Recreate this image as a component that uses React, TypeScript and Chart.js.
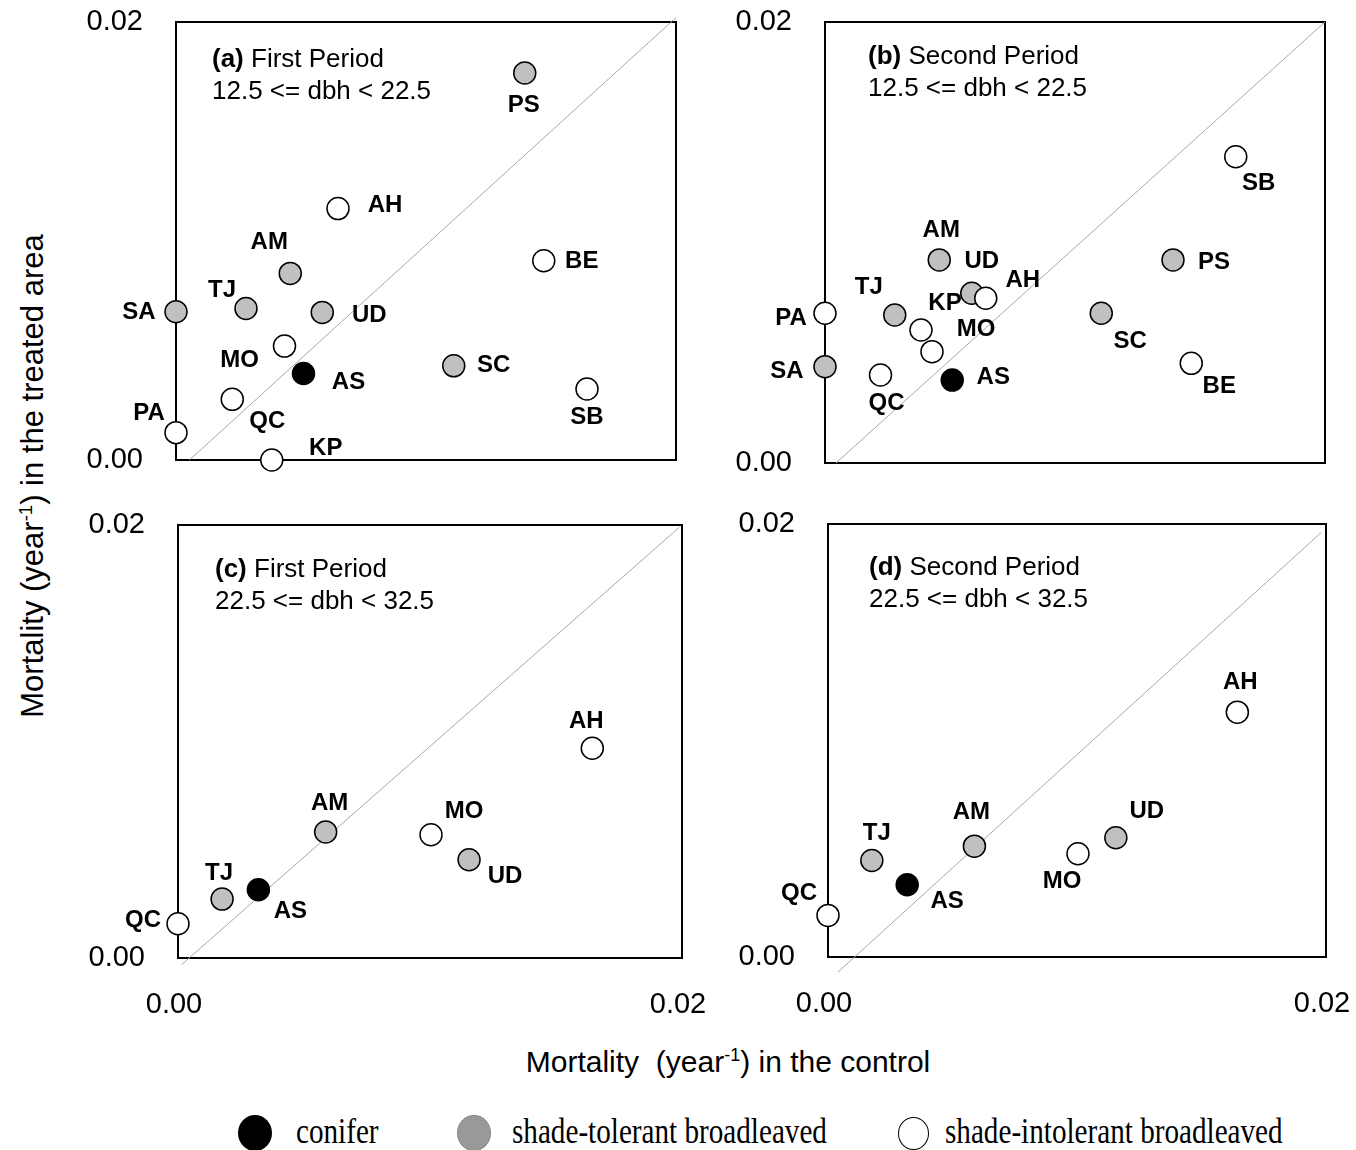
import React, { useEffect, useRef } from "react";
import { Chart, registerables } from "chart.js";

Chart.register(...registerables);

// ---------- Data ----------
const axisTickValues = [0, 0.02];

// Panel (a) First Period, 12.5 <= dbh < 22.5
const aSpecies = ["PS", "AH", "BE", "AM", "SA", "TJ", "UD", "MO", "AS", "SC", "SB", "QC", "PA", "KP"];
const aGroup = ["T", "I", "I", "T", "T", "T", "T", "I", "C", "T", "I", "I", "I", "I"];
const aControl = [0.01395, 0.00648, 0.01471, 0.00457, 0, 0.0028, 0.00585, 0.00434, 0.0051, 0.01111, 0.01644, 0.00225, 0, 0.00383];
const aTreated = [0.01767, 0.01148, 0.0091, 0.00852, 0.00677, 0.00692, 0.00674, 0.0052, 0.00395, 0.0043, 0.00324, 0.00277, 0.00125, 0];
const aDiagX = [0.00054, 0.02];
const aDiagY = [0, 0.0202];

// Panel (b) Second Period, 12.5 <= dbh < 22.5
const bSpecies = ["SB", "PS", "AM", "UD", "AH", "PA", "TJ", "KP", "MO", "SC", "SA", "QC", "AS", "BE"];
const bGroup = ["I", "T", "T", "T", "I", "I", "T", "I", "I", "T", "T", "I", "C", "I"];
const bControl = [0.01643, 0.01392, 0.00457, 0.00587, 0.00643, 0, 0.00279, 0.00384, 0.00428, 0.01105, 0, 0.00222, 0.00509, 0.01465];
const bTreated = [0.01389, 0.00921, 0.00921, 0.0077, 0.00747, 0.00679, 0.00671, 0.00603, 0.00505, 0.00679, 0.00437, 0.00399, 0.00376, 0.00452];
const bDiagX = [0.00044, 0.02];
const bDiagY = [0, 0.02];

// Panel (c) First Period, 22.5 <= dbh < 32.5
const cSpecies = ["AH", "AM", "MO", "UD", "AS", "TJ", "QC"];
const cGroup = ["I", "T", "I", "T", "C", "T", "I"];
const cControl = [0.01644, 0.00586, 0.01004, 0.01155, 0.00319, 0.00175, 0];
const cTreated = [0.00969, 0.00582, 0.00569, 0.00454, 0.00315, 0.00272, 0.00158];
const cDiagX = [0.00015, 0.0199];
const cDiagY = [-0.0003, 0.0199];

// Panel (d) Second Period, 22.5 <= dbh < 32.5
const dSpecies = ["AH", "UD", "MO", "AM", "TJ", "AS", "QC"];
const dGroup = ["I", "T", "I", "T", "T", "C", "I"];
const dControl = [0.01644, 0.01156, 0.01004, 0.00588, 0.00176, 0.00318, 0];
const dTreated = [0.01131, 0.00551, 0.00477, 0.00512, 0.00446, 0.00334, 0.00192];
const dDiagX = [0.0004, 0.0198];
const dDiagY = [-0.0007, 0.0196];

// ---------- Label placement (layout, px offsets from each point) ----------
const aLabelDx = [-1, 47, 38, -21, -37, -24, 47, -45, 45, 40, 0, 35, -27, 54];
const aLabelDy = [32, -3, 1, -31, 1, -18, 3, 14, 9, 0, 28, 22, -19, -12];
const bLabelDx = [23, 41, 2, 10, 37, -34, -26, 24, 44, 29, -38, 6, 41, 28];
const bLabelDy = [27, 2, -30, -32, -18, 5, -28, -27, -22, 28, 5, 28, -3, 23];
const cLabelDx = [-6, 4, 33, 36, 32, -3, -35];
const cLabelDy = [-27, -29, -23, 17, 22, -26, -3];
const dLabelDx = [3, 31, -16, -3, 5, 40, -29];
const dLabelDy = [-30, -26, 28, -34, -27, 17, -22];

// ---------- Styles ----------
const SANS = '"Liberation Sans", Arial, Helvetica, sans-serif';
const SERIF = '"Liberation Serif", "Times New Roman", Times, serif';
const groupFill: Record<string, string> = { C: "#000000", T: "#c0c0c0", I: "#ffffff" };

const PADL = 110;
const PADT = 20;
const PADR = 40;
const PADB = 70;

type Box = { left: number; top: number; width: number; height: number };
type PanelCfg = {
  box: Box;
  species: string[];
  group: string[];
  control: number[];
  treated: number[];
  diagX: number[];
  diagY: number[];
  labelDx: number[];
  labelDy: number[];
  tag: string;
  period: string;
  range: string;
  annot: { dx: number; y1: number; y2: number };
  showX: boolean;
};

const panels: PanelCfg[] = [
  {
    box: { left: 176, top: 22, width: 500, height: 438 },
    species: aSpecies, group: aGroup, control: aControl, treated: aTreated,
    diagX: aDiagX, diagY: aDiagY, labelDx: aLabelDx, labelDy: aLabelDy,
    tag: "(a)", period: " First Period", range: "12.5 <= dbh < 22.5",
    annot: { dx: 36, y1: 38, y2: 70 }, showX: false,
  },
  {
    box: { left: 825, top: 22, width: 500, height: 441 },
    species: bSpecies, group: bGroup, control: bControl, treated: bTreated,
    diagX: bDiagX, diagY: bDiagY, labelDx: bLabelDx, labelDy: bLabelDy,
    tag: "(b)", period: " Second Period", range: "12.5 <= dbh < 22.5",
    annot: { dx: 43, y1: 35, y2: 67 }, showX: false,
  },
  {
    box: { left: 178, top: 525, width: 504, height: 433 },
    species: cSpecies, group: cGroup, control: cControl, treated: cTreated,
    diagX: cDiagX, diagY: cDiagY, labelDx: cLabelDx, labelDy: cLabelDy,
    tag: "(c)", period: " First Period", range: "22.5 <= dbh < 32.5",
    annot: { dx: 37, y1: 45, y2: 77 }, showX: true,
  },
  {
    box: { left: 828, top: 524, width: 498, height: 433 },
    species: dSpecies, group: dGroup, control: dControl, treated: dTreated,
    diagX: dDiagX, diagY: dDiagY, labelDx: dLabelDx, labelDy: dLabelDy,
    tag: "(d)", period: " Second Period", range: "22.5 <= dbh < 32.5",
    annot: { dx: 41, y1: 44, y2: 76 }, showX: true,
  },
];

function zeroPadding(s: any) {
  s.paddingTop = 0;
  s.paddingBottom = 0;
  s.paddingLeft = 0;
  s.paddingRight = 0;
}

function Panel({ cfg }: { cfg: PanelCfg }) {
  const ref = useRef<HTMLCanvasElement | null>(null);
  const cw = cfg.box.width + PADL + PADR;
  const ch = cfg.box.height + PADT + PADB;

  useEffect(() => {
    if (!ref.current) return;
    const points = cfg.control.map((x, i) => ({ x, y: cfg.treated[i] }));
    const diag = cfg.diagX.map((x, i) => ({ x, y: cfg.diagY[i] }));

    const boxPlugin = {
      id: "boxFrame",
      beforeDatasetsDraw(chart: any) {
        const { left, top, right, bottom } = chart.chartArea;
        const ctx = chart.ctx;
        ctx.save();
        ctx.strokeStyle = "#000";
        ctx.lineWidth = 2;
        ctx.strokeRect(left, top, right - left, bottom - top);
        ctx.restore();
      },
    };

    const labelPlugin = {
      id: "speciesLabels",
      afterDatasetsDraw(chart: any) {
        const ctx = chart.ctx;
        const meta = chart.getDatasetMeta(0);
        ctx.save();
        ctx.fillStyle = "#000";
        ctx.font = `bold 24px ${SANS}`;
        ctx.textAlign = "center";
        ctx.textBaseline = "middle";
        meta.data.forEach((el: any, i: number) => {
          ctx.fillText(cfg.species[i], el.x + cfg.labelDx[i], el.y + cfg.labelDy[i]);
        });
        const { left, top } = chart.chartArea;
        const x0 = left + cfg.annot.dx;
        ctx.textAlign = "left";
        ctx.font = `bold 26px ${SANS}`;
        ctx.fillText(cfg.tag, x0, top + cfg.annot.y1);
        const w = ctx.measureText(cfg.tag).width;
        ctx.font = `26px ${SANS}`;
        ctx.fillText(cfg.period, x0 + w, top + cfg.annot.y1);
        ctx.fillText(cfg.range, x0, top + cfg.annot.y2);
        ctx.restore();
      },
    };

    const tickFmt = (v: any) => Number(v).toFixed(2);

    const chart = new Chart(ref.current, {
      type: "scatter",
      data: {
        datasets: [
          {
            label: "species",
            data: points,
            pointRadius: 11,
            pointHoverRadius: 11,
            pointBorderWidth: 1.5,
            pointBorderColor: "#000",
            pointBackgroundColor: cfg.group.map((g) => groupFill[g]),
            clip: false as any,
          },
          {
            label: "1:1",
            data: diag,
            showLine: true,
            borderColor: "#a8a8a8",
            borderWidth: 1,
            pointRadius: 0,
            clip: false as any,
          },
        ],
      },
      options: {
        animation: false,
        responsive: false,
        maintainAspectRatio: false,
        events: [],
        layout: {
          padding: { left: 0, top: PADT, right: PADR, bottom: 0 },
          autoPadding: false,
        } as any,
        plugins: {
          legend: { display: false },
          tooltip: { enabled: false },
        },
        scales: {
          x: {
            type: "linear",
            position: "bottom",
            min: 0,
            max: 0.02,
            afterBuildTicks: (s: any) => {
              s.ticks = axisTickValues.map((v) => ({ value: v }));
            },
            grid: { display: false, drawTicks: false },
            border: { display: false },
            ticks: {
              display: cfg.showX,
              padding: 30,
              labelOffset: -4,
              color: "#000",
              maxRotation: 0,
              autoSkip: false,
              font: { family: SANS, size: 29 },
              callback: tickFmt,
            },
            afterFit: (s: any) => {
              s.height = PADB;
              zeroPadding(s);
            },
          },
          y: {
            type: "linear",
            position: "left",
            min: 0,
            max: 0.02,
            afterBuildTicks: (s: any) => {
              s.ticks = axisTickValues.map((v) => ({ value: v }));
            },
            grid: { display: false, drawTicks: false },
            border: { display: false },
            ticks: {
              padding: 33,
              color: "#000",
              autoSkip: false,
              font: { family: SANS, size: 29 },
              callback: tickFmt,
            },
            afterFit: (s: any) => {
              s.width = PADL;
              zeroPadding(s);
            },
          },
        },
      } as any,
      plugins: [boxPlugin, labelPlugin],
    });
    return () => chart.destroy();
  }, [cfg]);

  return (
    <canvas
      ref={ref}
      width={cw}
      height={ch}
      style={{
        position: "absolute",
        left: cfg.box.left - PADL,
        top: cfg.box.top - PADT,
        width: cw,
        height: ch,
      }}
    />
  );
}

function LegendItem({ cx, fill, border, size, textLeft, text }: { cx: number; fill: string; border: string; size: number; textLeft: number; text: string }) {
  return (
    <>
      <div
        style={{
          position: "absolute",
          left: cx - size / 2,
          top: 1133 - (size + 2) / 2,
          width: size,
          height: size + 2,
          borderRadius: "50%",
          background: fill,
          border,
          boxSizing: "border-box",
        }}
      />
      <div
        style={{
          position: "absolute",
          left: textLeft,
          top: 1111,
          height: 40,
          lineHeight: "40px",
          fontFamily: SERIF,
          fontSize: 36,
          whiteSpace: "nowrap",
          color: "#000",
          transform: "scaleX(0.81)",
          transformOrigin: "left center",
        }}
      >
        {text}
      </div>
    </>
  );
}

export default function App() {
  return (
    <div
      style={{
        position: "absolute",
        left: 0,
        top: 0,
        width: 1356,
        height: 1150,
        background: "#fff",
        overflow: "hidden",
      }}
    >
      {panels.map((p, i) => (
        <Panel key={i} cfg={p} />
      ))}
      <div
        style={{
          position: "absolute",
          left: 33,
          top: 476,
          transform: "translate(-50%, -50%) rotate(-90deg)",
          fontFamily: SANS,
          fontSize: 31,
          whiteSpace: "pre",
          color: "#000",
        }}
      >
        Mortality (year<sup style={{ fontSize: "0.6em" }}>-1</sup>) in the treated area
      </div>
      <div
        style={{
          position: "absolute",
          left: 728,
          top: 1062,
          transform: "translate(-50%, -50%)",
          fontFamily: SANS,
          fontSize: 30,
          whiteSpace: "pre",
          color: "#000",
        }}
      >
        Mortality  (year<sup style={{ fontSize: "0.6em" }}>-1</sup>) in the control
      </div>
      <LegendItem cx={255} fill="#000" border="none" size={34} textLeft={296} text="conifer" />
      <LegendItem cx={474} fill="#999" border="1px solid #888" size={34} textLeft={512} text="shade-tolerant broadleaved" />
      <LegendItem cx={913} fill="#fff" border="1.5px solid #000" size={31} textLeft={945} text="shade-intolerant broadleaved" />
    </div>
  );
}
